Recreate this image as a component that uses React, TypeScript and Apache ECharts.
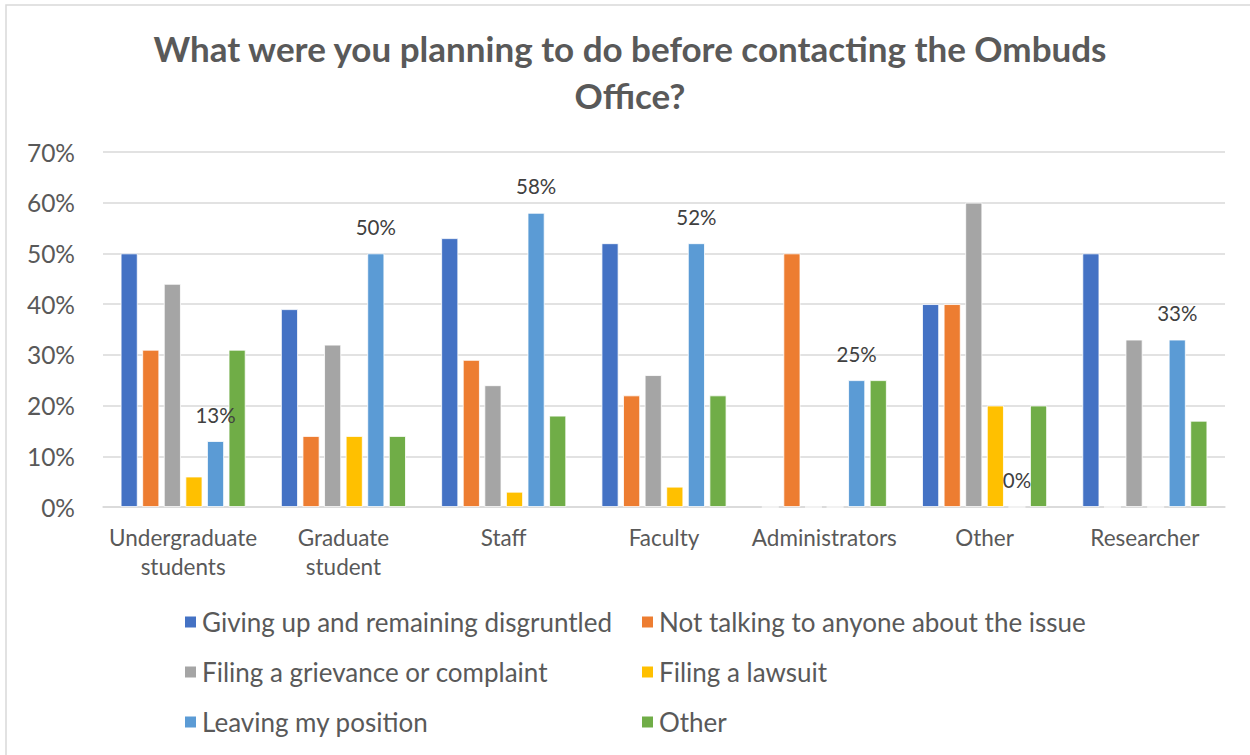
import React, { useEffect, useRef } from "react";
import * as echarts from "echarts";

const titleText = "What were you planning to do before contacting the Ombuds\nOffice?";
const categories = ["Undergraduate\nstudents", "Graduate\nstudent", "Staff", "Faculty", "Administrators", "Other", "Researcher"];
const seriesNames = [
  "Giving up and remaining disgruntled",
  "Not talking to anyone about the issue",
  "Filing a grievance or complaint",
  "Filing a lawsuit",
  "Leaving my position",
  "Other",
];
const givingUp = [50, 39, 53, 52, 0, 40, 50];
const notTalking = [31, 14, 29, 22, 50, 40, 0];
const grievance = [44, 32, 24, 26, 0, 60, 33];
const lawsuit = [6, 14, 3, 4, 0, 20, 0];
const leaving = [13, 50, 58, 52, 25, 0, 33];
const otherVals = [31, 14, 18, 22, 25, 20, 17];
const yTicks = [0, 10, 20, 30, 40, 50, 60, 70];
const colors = ["#4472C4", "#ED7D31", "#A5A5A5", "#FFC000", "#5B9BD5", "#70AD47"];

const FONT = "Lato, 'Open Sans', sans-serif";

export default function App() {
  const ref = useRef<HTMLDivElement>(null);
  useEffect(() => {
    if (!ref.current) return;
    const chart = echarts.init(ref.current, undefined, { renderer: "svg" });
    const values = [givingUp, notTalking, grievance, lawsuit, leaving, otherVals];
    const series = values.map((d, i) => ({
      name: seriesNames[i],
      type: "bar",
      data: d,
      barWidth: 17,
      barGap: "27%",
      itemStyle: { color: colors[i], borderColor: "#ffffff", borderWidth: 0.8 },
      label:
        i === 4
          ? {
              show: true,
              position: "top",
              distance: 16,
              formatter: (p: any) => p.value + "%",
              fontFamily: FONT,
              fontSize: 20.5,
              color: "#404040",
            }
          : { show: false },
    }));
    const legendText = { fontFamily: FONT, fontSize: 26, color: "#595959", lineHeight: 26 };
    chart.setOption({
      animation: false,
      backgroundColor: "#ffffff",
      color: colors,
      textStyle: { fontFamily: FONT },
      title: {
        text: titleText,
        left: 625,
        textAlign: "center",
        top: 19,
        textStyle: {
          fontFamily: FONT,
          fontSize: 35,
          fontWeight: "bold",
          color: "#595959",
          lineHeight: 47,
        },
      },
      graphic: [
        {
          type: "rect",
          shape: { x: 6, y: 5, width: 1270, height: 780 },
          style: { fill: "none", stroke: "#D9D9D9", lineWidth: 1.5 },
          silent: true,
        },
      ],
      legend: [
        {
          data: [seriesNames[0], seriesNames[2], seriesNames[4]],
          orient: "vertical",
          left: 183,
          top: 609,
          padding: 0,
          itemWidth: 13,
          itemHeight: 13,
          itemGap: 24,
          icon: "rect",
          textStyle: legendText,
        },
        {
          data: [seriesNames[1], seriesNames[3], seriesNames[5]],
          orient: "vertical",
          left: 640,
          top: 609,
          padding: 0,
          itemWidth: 13,
          itemHeight: 13,
          itemGap: 24,
          icon: "rect",
          textStyle: legendText,
        },
      ],
      grid: { left: 103, right: 25, top: 152, bottom: 248, containLabel: false },
      xAxis: {
        type: "category",
        data: categories,
        axisLine: { lineStyle: { color: "#D9D9D9", width: 1.5 } },
        axisTick: { show: false },
        axisLabel: {
          fontFamily: FONT,
          fontSize: 22.5,
          color: "#595959",
          margin: 16,
          lineHeight: 29,
          interval: 0,
        },
      },
      yAxis: {
        type: "value",
        min: yTicks[0],
        max: yTicks[yTicks.length - 1],
        interval: 10,
        axisLine: { show: false },
        axisTick: { show: false },
        splitLine: { lineStyle: { color: "#D9D9D9", width: 1.5 } },
        axisLabel: {
          fontFamily: FONT,
          fontSize: 24.5,
          color: "#595959",
          margin: 28,
          formatter: (v: number) => v + "%",
        },
      },
      series,
    });
    return () => chart.dispose();
  }, []);
  return (
    <div
      ref={ref}
      style={{ position: "fixed", left: 0, top: 0, width: 1250, height: 755, background: "#fff" }}
    />
  );
}
